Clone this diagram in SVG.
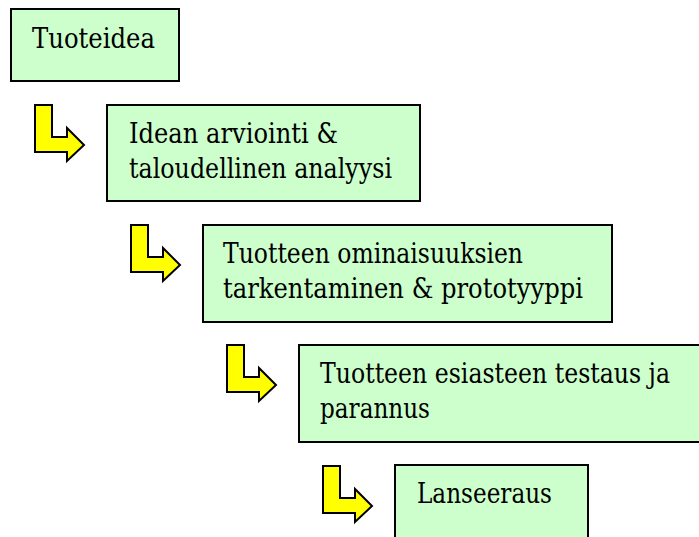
<svg xmlns="http://www.w3.org/2000/svg" width="699" height="537" viewBox="0 0 699 537">
<style>
.box{fill:#CCFFCC;stroke:#000;stroke-width:2}
.t{font-family:'DejaVu Serif','Liberation Serif',serif;font-size:27px;fill:#000}
.arr{fill:#FFFF00;stroke:#000;stroke-width:2;stroke-linejoin:miter}
</style>
<defs>
<polygon id="bend" class="arr" points="0,0 17,0 17,32 32,32 32,23 49,40 32,56 32,47 0,47"/>
</defs>
<rect width="699" height="537" fill="#fff"/>
<g id="connectors">
<use href="#bend" x="35" y="105"/>
<use href="#bend" x="131" y="225"/>
<use href="#bend" x="227" y="345"/>
<use href="#bend" x="323" y="466"/>
</g>
<g id="n1">
<rect class="box" x="11" y="9" width="168" height="72"/>
<text class="t" x="32" y="48" textLength="123" lengthAdjust="spacingAndGlyphs">Tuoteidea</text>
</g>
<g id="n2">
<rect class="box" x="107" y="105" width="313" height="96"/>
<text class="t" x="129" y="143" textLength="209" lengthAdjust="spacingAndGlyphs">Idean arviointi &amp;</text>
<text class="t" x="129" y="178" textLength="263" lengthAdjust="spacingAndGlyphs">taloudellinen analyysi</text>
</g>
<g id="n3">
<rect class="box" x="203" y="225" width="409" height="97"/>
<text class="t" x="223" y="263" textLength="300" lengthAdjust="spacingAndGlyphs">Tuotteen ominaisuuksien</text>
<text class="t" x="223" y="298" textLength="360" lengthAdjust="spacingAndGlyphs">tarkentaminen &amp; prototyyppi</text>
</g>
<g id="n4">
<rect class="box" x="299" y="345" width="420" height="97"/>
<text class="t" x="320" y="383" textLength="350" lengthAdjust="spacingAndGlyphs">Tuotteen esiasteen testaus ja</text>
<text class="t" x="320" y="418" textLength="110" lengthAdjust="spacingAndGlyphs">parannus</text>
</g>
<g id="n5">
<rect class="box" x="395" y="465" width="193" height="100"/>
<text class="t" x="417" y="503" textLength="135" lengthAdjust="spacingAndGlyphs">Lanseeraus</text>
</g>
</svg>
